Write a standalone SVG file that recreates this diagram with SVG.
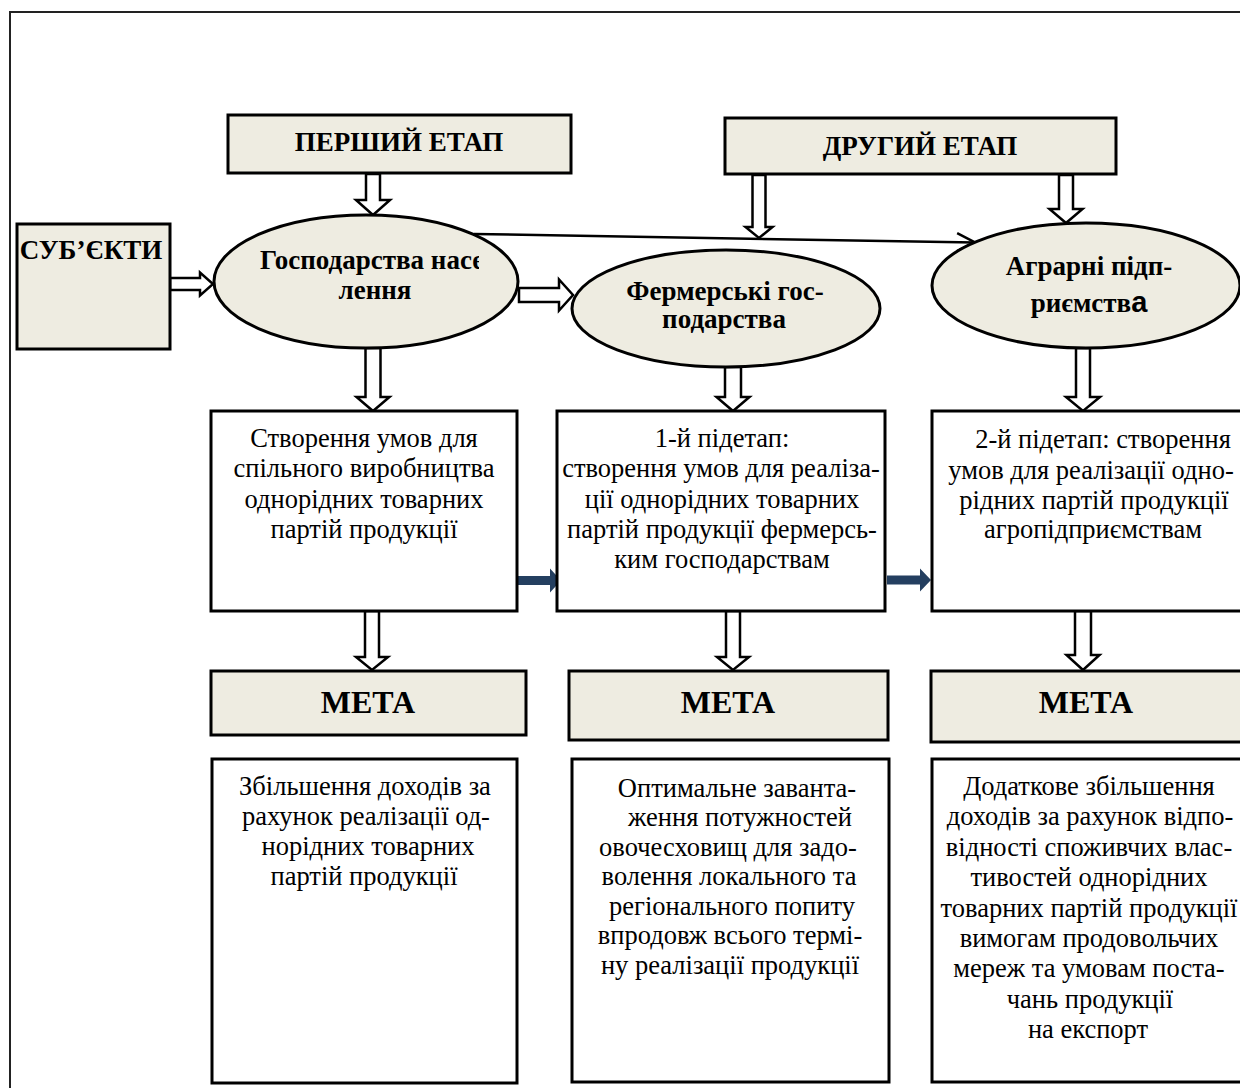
<svg xmlns="http://www.w3.org/2000/svg" width="1240" height="1088" viewBox="0 0 1240 1088">
<defs>
<style>
.frame{fill:none;stroke:#222;stroke-width:2}
.head{fill:#EEECE1;stroke:#000;stroke-width:3}
.box{fill:#fff;stroke:#000;stroke-width:3}
.ell{fill:#EEECE1;stroke:#000;stroke-width:3}
.b{font-family:"Liberation Serif","Times New Roman",serif;font-weight:bold;font-size:27px;fill:#000}
.meta{font-family:"Liberation Serif","Times New Roman",serif;font-weight:bold;font-size:32px;fill:#000;text-anchor:middle}
.t{font-family:"Liberation Serif","Times New Roman",serif;font-size:26.5px;fill:#000;text-anchor:middle}
.hollow{fill:#fff;stroke:#000;stroke-width:2.5;stroke-linejoin:miter}
.solid{fill:#243F60;stroke:none}
.line{fill:none;stroke:#000;stroke-width:2.5}
</style>
<marker id="open" viewBox="0 0 20 20" refX="19" refY="10" markerWidth="20" markerHeight="20" markerUnits="userSpaceOnUse" orient="auto">
<path d="M1,1 L19,10 L1,19" fill="none" stroke="#000" stroke-width="2.5"/>
</marker>
<clipPath id="clipE1"><rect x="200" y="240" width="279" height="40"/></clipPath>
</defs>
<rect class="frame" x="10" y="12" width="1250" height="1100"/>
<g id="connectors">
<path class="line" d="M474,234 L975,242.5" marker-end="url(#open)"/>
<polygon class="hollow" points="366,174 380,174 380,200 390,200 373,215 356,200 366,200"/>
<polygon class="hollow" points="365.5,348 380.5,348 380.5,397 389.5,397 373,411 356.5,397 365.5,397"/>
<polygon class="hollow" points="170,278 200,278 200,272.5 213,284 200,295.5 200,290 170,290"/>
<polygon class="hollow" points="519,288 559,288 559,279.5 573,295 559,310.5 559,302 519,302"/>
<polygon class="hollow" points="752.5,175 765.5,175 765.5,227 772.5,227 759,238 745.5,227 752.5,227"/>
<polygon class="hollow" points="1059,175 1073,175 1073,209 1082.5,209 1066,223 1049.5,209 1059,209"/>
<polygon class="hollow" points="725,367 741,367 741,397 749.5,397 733,411 716.5,397 725,397"/>
<polygon class="hollow" points="1076,348 1090,348 1090,397 1100,397 1083,411 1066,397 1076,397"/>
<polygon class="hollow" points="365,611 379,611 379,657 388,657 372,670 356,657 365,657"/>
<polygon class="hollow" points="726,611 740,611 740,657 749,657 733,670 717,657 726,657"/>
<polygon class="hollow" points="1075,611 1091,611 1091,655 1099.5,655 1083,670 1066.5,655 1075,655"/>
<polygon class="solid" points="518,576 550,576 550,568.5 561,580.5 550,592.5 550,585 518,585"/>
<polygon class="solid" points="887,575.5 920,575.5 920,568.5 931,580 920,591.5 920,584.5 887,584.5"/>
</g>
<g id="n-stage1">
<rect class="head" x="228" y="115" width="343" height="58"/>
<text class="b" x="399" y="151" text-anchor="middle">ПЕРШИЙ ЕТАП</text>
</g>
<g id="n-stage2">
<rect class="head" x="725" y="118" width="391" height="56"/>
<text class="b" x="920" y="155" text-anchor="middle">ДРУГИЙ ЕТАП</text>
</g>
<g id="n-subjects">
<rect class="head" x="17" y="224" width="153" height="125"/>
<text class="b" x="91" y="259" text-anchor="middle">СУБ’ЄКТИ</text>
</g>
<g id="n-households">
<ellipse class="ell" cx="366" cy="281.5" rx="152" ry="66.5"/>
<text class="b" x="260" y="269" clip-path="url(#clipE1)">Господарства насе</text>
<text class="b" x="375" y="299" text-anchor="middle">лення</text>
</g>
<g id="n-farms">
<ellipse class="ell" cx="726" cy="308.5" rx="154" ry="58.5"/>
<text class="b" x="725" y="300" text-anchor="middle">Фермерські гос-</text>
<text class="b" x="724" y="328" text-anchor="middle">подарства</text>
</g>
<g id="n-agro">
<ellipse class="ell" cx="1086" cy="285.5" rx="154" ry="62.5"/>
<text class="b" x="1089" y="275" text-anchor="middle">Аграрні підп-</text>
<text class="b" x="1089" y="312" text-anchor="middle">риємств<tspan font-family="Liberation Sans, Arial, sans-serif" font-size="29px">а</tspan></text>
</g>
<g id="n-cond1">
<rect class="box" x="211" y="411" width="306" height="200"/>
<text class="t" x="364" y="447">Створення умов для</text>
<text class="t" x="364" y="477">спільного виробництва</text>
<text class="t" x="364" y="508">однорідних товарних</text>
<text class="t" x="364" y="538">партій продукції</text>
</g>
<g id="n-cond2">
<rect class="box" x="557" y="411" width="328" height="200"/>
<text class="t" x="722" y="447">1-й підетап:</text>
<text class="t" x="721" y="477">створення умов для реаліза-</text>
<text class="t" x="722" y="508">ції однорідних товарних</text>
<text class="t" x="722" y="538">партій продукції фермерсь-</text>
<text class="t" x="722" y="568">ким господарствам</text>
</g>
<g id="n-cond3">
<rect class="box" x="932" y="411" width="320" height="200"/>
<text class="t" x="1103" y="448">2-й підетап: створення</text>
<text class="t" x="1091" y="479">умов для реалізації одно-</text>
<text class="t" x="1094" y="509">рідних партій продукції</text>
<text class="t" x="1093" y="538">агропідприємствам</text>
</g>
<g id="n-meta1">
<rect class="head" x="211" y="671" width="315" height="64"/>
<text class="meta" x="368" y="713">МЕТА</text>
</g>
<g id="n-meta2">
<rect class="head" x="569" y="671" width="319" height="69"/>
<text class="meta" x="728" y="713">МЕТА</text>
</g>
<g id="n-meta3">
<rect class="head" x="931" y="671" width="320" height="71"/>
<text class="meta" x="1086" y="713">МЕТА</text>
</g>
<g id="n-goal1">
<rect class="box" x="212" y="759" width="305" height="324"/>
<text class="t" x="365" y="795">Збільшення доходів за</text>
<text class="t" x="366" y="825">рахунок реалізації од-</text>
<text class="t" x="368" y="855">норідних товарних</text>
<text class="t" x="364" y="885">партій продукції</text>
</g>
<g id="n-goal2">
<rect class="box" x="572" y="759" width="317" height="323"/>
<text class="t" x="737" y="797">Оптимальне заванта-</text>
<text class="t" x="740" y="826">ження потужностей</text>
<text class="t" x="728" y="856">овочесховищ для задо-</text>
<text class="t" x="729" y="885">волення локального та</text>
<text class="t" x="732" y="915">регіонального попиту</text>
<text class="t" x="730" y="944">впродовж всього термі-</text>
<text class="t" x="730" y="974">ну реалізації продукції</text>
</g>
<g id="n-goal3">
<rect class="box" x="932" y="759" width="320" height="323"/>
<text class="t" x="1089" y="795">Додаткове збільшення</text>
<text class="t" x="1090" y="825">доходів за рахунок відпо-</text>
<text class="t" x="1089" y="856">відності споживчих влас-</text>
<text class="t" x="1089" y="886">тивостей однорідних</text>
<text class="t" x="1089" y="917">товарних партій продукції</text>
<text class="t" x="1089" y="947">вимогам продовольчих</text>
<text class="t" x="1089" y="977">мереж та умовам поста-</text>
<text class="t" x="1090" y="1008">чань продукції</text>
<text class="t" x="1088" y="1038">на експорт</text>
</g>
</svg>
